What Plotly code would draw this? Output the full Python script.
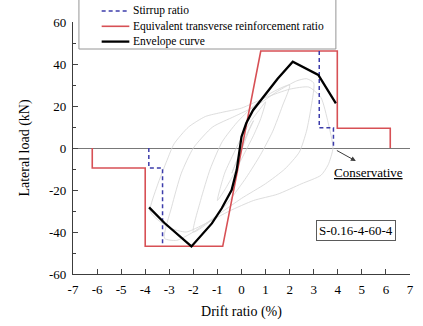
import plotly.graph_objects as go

# ---- data ----
stirrup_x = [-3.85, -3.85, -3.28, -3.28, None, 3.23, 3.23, 3.82, 3.82]
stirrup_y = [0, -9.5, -9.5, -46.8, None, 46.2, 9.6, 9.6, 0]

equiv_x = [-6.2, -6.2, -4.0, -4.0, -0.78, 0.8, 3.98, 3.98, 6.18, 6.18]
equiv_y = [0, -9.5, -9.5, -46.8, -46.8, 46.2, 46.2, 9.4, 9.4, 0]

env_x = [-3.84, -3.21, -2.08, -1.23, -0.82, -0.41, -0.2, -0.07, 0.0, 0.2, 0.48, 1.5, 2.13, 3.19, 3.92]
env_y = [-28.3, -35.6, -46.9, -35.9, -28.7, -20.0, -10.5, -1.0, 5.4, 11.9, 18.0, 33.0, 41.1, 34.8, 21.3]

loops = [
    ([-0.4, -0.2, 0.0, 0.2, 0.4, 0.5, 0.3, 0.1, -0.1, -0.3, -0.4],
     [-12, -6, 0, 6, 11, 13, 8, 2, -4, -9, -12]),
    ([-1.0, -0.7, -0.3, 0.0, 0.4, 0.8, 1.0, 0.8, 0.5, 0.1, -0.3, -0.7, -1.0],
     [-25, -12, -2, 5, 13, 19, 22, 14, 6, -3, -12, -20, -25]),
    ([-2.0, -1.7, -1.3, -0.8, -0.2, 0.5, 1.2, 2.0, 1.7, 1.3, 0.8, 0.2, -0.5, -1.2, -2.0],
     [-40, -25, -10, 3, 12, 20, 26, 30, 20, 8, -3, -14, -25, -34, -40]),
    ([-3.2, -2.9, -2.5, -2.0, -1.2, -0.3, 0.6, 1.5, 2.3, 2.7, 3.0, 2.9, 2.7, 2.4, 1.8, 1.0, 0.0, -1.0, -2.0, -2.7, -3.2],
     [-43, -28, -12, 0, 10, 15, 20, 27, 32, 33, 31, 20, 8, -2, -10, -17, -24, -32, -40, -44, -43]),
    ([-3.8, -3.5, -3.1, -2.8, -2.2, -1.5, -0.8, 0.0, 1.0, 2.0, 2.8, 3.3, 3.6, 3.8, 3.6, 3.3, 2.5, 1.5, 0.5, -0.5, -1.5, -2.3, -3.0, -3.5, -3.8],
     [-30, -18, -6, 2, 10, 15, 17, 19, 24, 28, 29, 24, 12, 0, -8, -13, -17, -22, -25, -30, -36, -40, -38, -34, -30]),
]

x_ticks = list(range(-7, 8))
x_ticktext = [str(v) for v in x_ticks]
y_ticks = [-60, -40, -20, 0, 20, 40, 60]
y_ticktext = [str(v) for v in y_ticks]

legend_names = ["Stirrup ratio", "Equivalent transverse reinforcement ratio", "Envelope curve"]
legend_colors = ["rgb(60,60,170)", "rgb(215,80,85)", "black"]
legend_dash = ["4px,3px", "solid", "solid"]
legend_width = [1.5, 1.6, 2.3]

FONT = "Liberation Serif"
fig = go.Figure()

for lx, ly in loops:
    fig.add_trace(go.Scatter(x=lx, y=ly, mode="lines", showlegend=False, hoverinfo="skip",
                             line=dict(color="rgb(212,212,212)", width=0.8, shape="spline", smoothing=0.6)))

fig.add_trace(go.Scatter(x=equiv_x, y=equiv_y, mode="lines", name=legend_names[1], showlegend=False,
                         line=dict(color=legend_colors[1], width=legend_width[1])))
fig.add_trace(go.Scatter(x=stirrup_x, y=stirrup_y, mode="lines", name=legend_names[0], showlegend=False,
                         line=dict(color=legend_colors[0], width=legend_width[0], dash="4px,3px")))
fig.add_trace(go.Scatter(x=env_x, y=env_y, mode="lines", name=legend_names[2], showlegend=False,
                         line=dict(color=legend_colors[2], width=legend_width[2])))

# plot area in pixels: x 73..414, y 22..274
def px(x):
    return (x - 73) / 341.0

def py(y):
    return (274 - y) / 252.0

# manual legend box
fig.add_shape(type="rect", xref="paper", yref="paper", x0=px(79), x1=px(339), y0=py(49), y1=py(-3),
              line=dict(color="rgb(150,150,150)", width=1), fillcolor="white", layer="above")
for i, name in enumerate(legend_names):
    yy = py(11 + 15.3 * i)
    fig.add_shape(type="line", xref="paper", yref="paper", x0=px(102), x1=px(130), y0=yy, y1=yy,
                  line=dict(color=legend_colors[i], width=legend_width[i], dash=legend_dash[i]), layer="above")
    fig.add_annotation(xref="paper", yref="paper", x=px(132), y=yy, xanchor="left", yanchor="middle",
                       text=name, showarrow=False, font=dict(family=FONT, size=11.5, color="black"))

fig.add_annotation(x=4.75, y=-6.2, ax=3.9, ay=-0.8, xref="x", yref="y", axref="x", ayref="y",
                   text="", showarrow=True, arrowhead=2, arrowsize=1, arrowwidth=1, arrowcolor="rgb(60,60,60)")
fig.add_annotation(x=5.27, y=-11.7, text="<u>Conservative</u>", showarrow=False,
                   font=dict(family=FONT, size=13, color="black"))
fig.add_annotation(x=4.75, y=-39.5, text="S-0.16-4-60-4", showarrow=False,
                   font=dict(family=FONT, size=13, color="black"),
                   bordercolor="rgb(90,90,90)", borderwidth=1, borderpad=2, bgcolor="white")

fig.update_layout(
    width=423, height=326,
    margin=dict(l=73, r=9, t=22, b=52),
    paper_bgcolor="white", plot_bgcolor="white",
    font=dict(family=FONT, size=13, color="black"),
    showlegend=False,
    xaxis=dict(range=[-7, 7], tickvals=x_ticks, ticktext=x_ticktext, ticks="inside", ticklen=5, tickwidth=1,
               showline=True, linecolor="rgb(60,60,60)", linewidth=1.3, showgrid=False, zeroline=False,
               ticklabelstandoff=3,
               title=dict(text="Drift ratio (%)", font=dict(family=FONT, size=14), standoff=10)),
    yaxis=dict(range=[-60, 60], tickvals=y_ticks, ticktext=y_ticktext, ticks="inside", ticklen=5, tickwidth=1,
               minor=dict(dtick=10, ticks="inside", ticklen=3, tickcolor="rgb(60,60,60)"),
               showline=True, linecolor="rgb(60,60,60)", linewidth=1.3, showgrid=False,
               zeroline=True, zerolinecolor="rgb(120,120,120)", zerolinewidth=1,
               ticklabelstandoff=3,
               title=dict(text="Lateral load (kN)", font=dict(family=FONT, size=14), standoff=16)),
)

fig.write_html("out.html")
